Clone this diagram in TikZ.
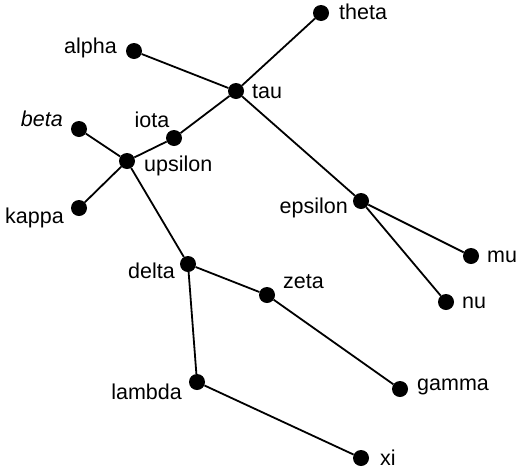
\documentclass[tikz,border=0pt]{standalone}
\usepackage{fontspec}
\setmainfont{Liberation Sans}
\begin{document}
\begin{tikzpicture}[x=1pt,y=-1pt,
  vdot/.style={circle,fill=black,draw=none,minimum size=16pt,inner sep=0pt},
  lbl/.style={inner sep=0pt,font=\fontsize{21.5}{24}\selectfont},
  edge/.style={line width=1.8pt}]
\useasboundingbox (0,0) rectangle (516,469);
% vertices
\node[vdot] (theta) at (321,13) {};
\node[vdot] (alpha) at (134,51) {};
\node[vdot] (tau) at (236,91) {};
\node[vdot] (beta) at (79,129) {};
\node[vdot] (iota) at (174,138) {};
\node[vdot] (upsilon) at (127,161) {};
\node[vdot] (kappa) at (79,208) {};
\node[vdot] (epsilon) at (361,201) {};
\node[vdot] (mu) at (471,256) {};
\node[vdot] (nu) at (446,302) {};
\node[vdot] (delta) at (188,264) {};
\node[vdot] (zeta) at (267,295) {};
\node[vdot] (lambda) at (197,382) {};
\node[vdot] (gamma) at (400,389) {};
\node[vdot] (xi) at (361,458) {};
% labels
\node[lbl,anchor=west] (ltheta) at (339,12) {theta};
\node[lbl,anchor=east] (lalpha) at (117,48) {alpha};
\node[lbl,anchor=west] (ltau) at (252,92) {tau};
\node[lbl,anchor=east,font=\fontsize{21.5}{24}\selectfont\itshape] (lbeta) at (63,119) {beta};
\node[lbl] (liota) at (152,120) {iota};
\node[lbl,anchor=west] (lupsilon) at (144,166) {upsilon};
\node[lbl,anchor=east] (lkappa) at (64,218) {kappa};
\node[lbl,anchor=east] (lepsilon) at (348,208) {epsilon};
\node[lbl,anchor=west] (lmu) at (487,257) {mu};
\node[lbl,anchor=west] (lnu) at (462,303) {nu};
\node[lbl,anchor=east] (ldelta) at (175,271) {delta};
\node[lbl,anchor=west] (lzeta) at (283,282) {zeta};
\node[lbl,anchor=east] (llambda) at (182,392) {lambda};
\node[lbl,anchor=west] (lgamma) at (417,387) {gamma};
\node[lbl,anchor=west] (lxi) at (380,458) {xi};
% edges
\draw[edge] (alpha) -- (tau);
\draw[edge] (theta) -- (tau);
\draw[edge] (tau) -- (iota);
\draw[edge] (iota) -- (upsilon);
\draw[edge] (beta) -- (upsilon);
\draw[edge] (kappa) -- (upsilon);
\draw[edge] (upsilon) -- (delta);
\draw[edge] (tau) -- (epsilon);
\draw[edge] (epsilon) -- (mu);
\draw[edge] (epsilon) -- (nu);
\draw[edge] (delta) -- (zeta);
\draw[edge] (zeta) -- (gamma);
\draw[edge] (delta) -- (lambda);
\draw[edge] (lambda) -- (xi);
\end{tikzpicture}
\end{document}
